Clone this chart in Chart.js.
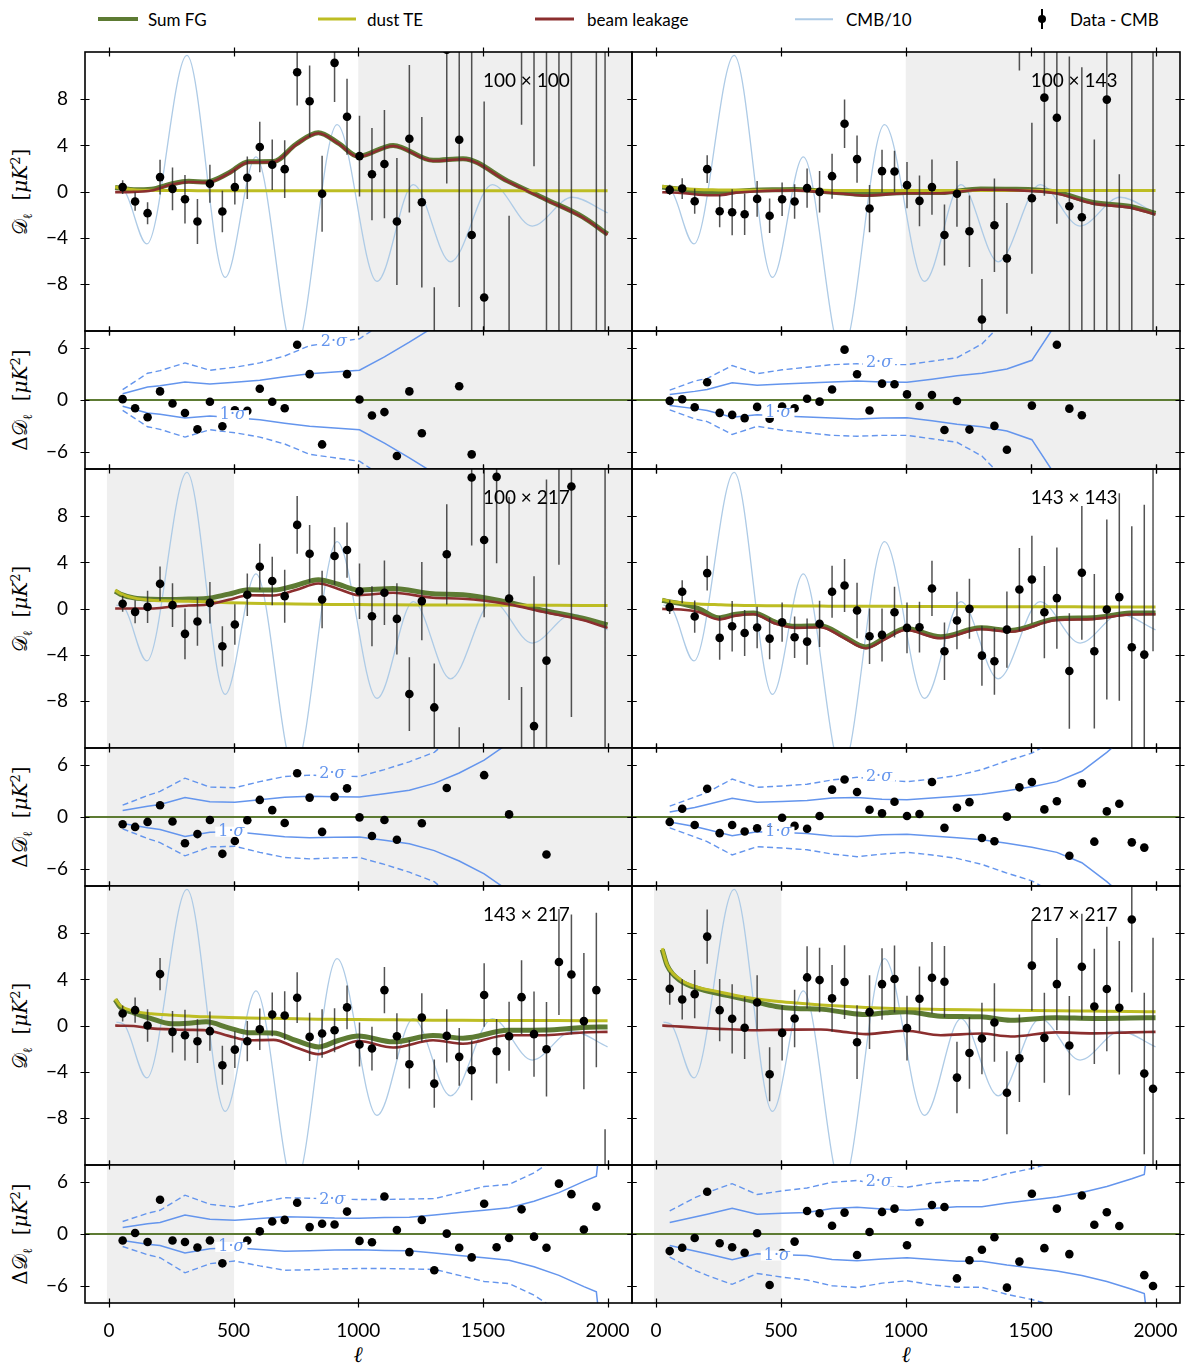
<!DOCTYPE html>
<html>
<head>
<meta charset="utf-8">
<title>TE foreground residuals</title>
<script src="https://cdn.jsdelivr.net/npm/chart.js@4.4.1/dist/chart.umd.min.js"></script>
<style>
  html, body { margin: 0; padding: 0; background: #fff; }
  body { position: relative; width: 1200px; height: 1366px; overflow: hidden; font-family: Lato, "DejaVu Sans", sans-serif; }
  canvas { position: absolute; }
  .legline { position: absolute; transform: translateY(-50%); }
  .legtext { position: absolute; top: 19px; transform: translateY(-50%); font-size: 17px; color: #000; white-space: nowrap; }
  .ytitle { position: absolute; transform: translate(-50%, -50%) rotate(-90deg); white-space: nowrap; font-family: "DejaVu Serif", serif; font-size: 20px; color: #000; }
  .ytitle sub { font-size: 13px; }
  .ytitle sup { font-size: 13px; }
  .xtitle { position: absolute; transform: translate(-50%, -50%); font-family: "DejaVu Serif", serif; font-style: italic; font-size: 22px; }
</style>
</head>
<body>

<!-- legend -->
<div class="legline" style="left:98px;top:19px;width:40px;height:4px;background:#5d7b33"></div>
<div class="legtext" style="left:148px">Sum FG</div>
<div class="legline" style="left:318px;top:19px;width:38px;height:3px;background:#bdbd23"></div>
<div class="legtext" style="left:367px">dust TE</div>
<div class="legline" style="left:535px;top:19px;width:39px;height:3px;background:#8b2e2e"></div>
<div class="legtext" style="left:587px">beam leakage</div>
<div class="legline" style="left:795px;top:19px;width:38px;height:1.5px;background:#aecbe6"></div>
<div class="legtext" style="left:846px">CMB/10</div>
<div class="legline" style="left:1041px;top:19px;width:1.5px;height:20px;background:#000"></div>
<div class="legline" style="left:1038px;top:19px;width:8px;height:8px;border-radius:50%;background:#000"></div>
<div class="legtext" style="left:1070px">Data - CMB</div>

<!-- axis titles -->
<div class="ytitle" style="left:22px;top:192px">𝒟<sub>ℓ</sub>&nbsp;&nbsp;[<i>μK</i><sup>2</sup>]</div>
<div class="ytitle" style="left:22px;top:400px">Δ𝒟<sub>ℓ</sub>&nbsp;&nbsp;[<i>μK</i><sup>2</sup>]</div>
<div class="ytitle" style="left:22px;top:609px">𝒟<sub>ℓ</sub>&nbsp;&nbsp;[<i>μK</i><sup>2</sup>]</div>
<div class="ytitle" style="left:22px;top:817px">Δ𝒟<sub>ℓ</sub>&nbsp;&nbsp;[<i>μK</i><sup>2</sup>]</div>
<div class="ytitle" style="left:22px;top:1026px">𝒟<sub>ℓ</sub>&nbsp;&nbsp;[<i>μK</i><sup>2</sup>]</div>
<div class="ytitle" style="left:22px;top:1234px">Δ𝒟<sub>ℓ</sub>&nbsp;&nbsp;[<i>μK</i><sup>2</sup>]</div>
<div class="xtitle" style="left:358px;top:1355px">ℓ</div>
<div class="xtitle" style="left:906px;top:1355px">ℓ</div>

<script>
// ---------------- data ----------------
const ellTicks = [0, 500, 1000, 1500, 2000];
const mainYTicks = [-8, -4, 0, 4, 8];
const resYTicks = [-6, 0, 6];

const ellBins = [55, 105, 155, 205, 255, 305, 355, 405, 455, 505, 555, 605, 655, 705, 755, 805, 855, 905, 955, 1005,
                 1055, 1105, 1155, 1205, 1255, 1305, 1355, 1405, 1455, 1505, 1555, 1605, 1655, 1705, 1755, 1805, 1855, 1905, 1955, 1990];
const fgEll = [25, 45, 100, 170, 250, 320, 390, 480, 560, 660, 750, 840, 920, 1000, 1140, 1300, 1420, 1600, 1750, 1900, 2000];
const bandEll = [55, 155, 205, 305, 405, 505, 605, 705, 805, 905, 1005, 1105, 1205, 1305, 1405, 1505, 1605, 1705, 1805, 1905, 1955, 1975];

// CMB TE / 10, same in every panel
const cmbEll = [30, 60, 152, 313, 466, 590, 744, 915, 1075, 1221, 1370, 1538, 1698, 1858, 2000];
const cmbVal = [0.3, 0.1, -4.55, 11.8, -7.45, 3.0, -14.0, 5.8, -7.8, 0.6, -6.1, 0.6, -3.0, -0.5, -1.85];

// 100 x 100
const data_100x100 = [0.38, -0.87, -1.88, 1.25, 0.23, -0.67, -2.6, 0.67, -1.74, 0.38, 1.19, 3.86, 2.32, 1.94, 10.35, 7.83, -0.2, 11.16, 6.49, 3.07,
                      1.5, 2.38, -2.6, 4.58, -0.93, -14.0, 12.3, 4.49, -3.77, -9.2, 40.0, -16.0, 18.0, 16.0, -13.0, 13.0, -14.0, 45.0, 15.0, -15.0];
const err_100x100 = [0.6, 0.8, 0.95, 1.5, 1.85, 2.1, 1.95, 1.65, 1.8, 1.5, 1.85, 2.2, 2.2, 2.5, 2.9, 3.1, 3.3, 3.4, 3.3, 3.5,
                     4.0, 4.7, 5.5, 6.4, 7.4, 5.7, 11.6, 14.5, 17, 17, 20, 13.9, 12.2, 13.8, 30, 30, 30, 25, 35, 35];
const res_100x100 = [0.1, -0.95, -2.0, 1.0, -0.4, -1.5, -3.4, -0.2, -3.05, -1.2, -1.26, 1.3, -0.2, -0.95, 6.4, 3.0, -5.15, null, 3.0, 0.05,
                     -1.8, -1.4, -6.5, 1.0, -3.85, null, null, 1.6, -6.3, null, null, null, null, null, null, null, null, null, null, null];
const sumfg_100x100 = [0.35, 0.3, 0.15, 0.2, 0.65, 0.88, 0.82, 1.6, 2.58, 2.6, 4.1, 5.1, 4.2, 3.05, 4.0, 2.7, 2.85, 0.9, -0.65, -2.2, -3.7];
const dust_100x100 = [0.4, 0.3, 0.15, 0.1, 0.08, 0.08, 0.07, 0.07, 0.07, 0.06, 0.06, 0.06, 0.06, 0.06, 0.06, 0.06, 0.06, 0.06, 0.06, 0.06, 0.06];
const beam_100x100 = [-0.05, -0.05, -0.03, 0.08, 0.6, 0.83, 0.77, 1.55, 2.53, 2.55, 4.05, 5.05, 4.15, 3.0, 3.95, 2.65, 2.8, 0.85, -0.7, -2.25, -3.75];
const sig1_100x100 = [0.73, 1.5, 1.65, 2.1, 1.85, 2.05, 2.3, 2.7, 3.05, 3.25, 3.45, 5.0, 6.7, 8.5, 10.5, 12.5, 14, 16, 18, 20, 21, 22];
const sig2_100x100 = [1.2, 3.1, 3.4, 4.3, 3.45, 3.8, 4.3, 5.1, 6.3, 6.7, 7.1, 9.0, 12, 15, 18, 21, 24, 27, 30, 33, 34, 35];

// 100 x 143
const data_100x143 = [0.14, 0.26, -0.84, 1.94, -1.71, -1.8, -1.97, -0.64, -2.1, -0.67, -0.87, 0.29, -0.03, 1.33, 5.88, 2.81, -1.48, 1.77, 1.74, 0.55,
                      -0.81, 0.38, -3.77, -0.2, -3.45, -11.1, -2.93, -5.8, 16.0, -0.58, 8.14, 6.4, -1.28, -2.23, -14.0, 7.97, -14.0, 14.0, 40.0, -15.0];
const err_100x143 = [0.45, 0.9, 1.1, 1.2, 1.4, 2.0, 1.8, 1.55, 1.5, 1.45, 1.5, 1.7, 1.8, 1.95, 2.1, 2.05, 2.05, 1.85, 1.8, 2.0,
                     2.2, 2.4, 2.65, 2.85, 3.1, 3.5, 4.05, 4.8, 5.5, 6.55, 8.5, 9.2, 13, 13, 18.5, 20, 15.5, 30, 20, 30];
const res_100x143 = [-0.1, 0.08, -0.84, 2.06, -1.49, -1.72, -2.1, -0.8, -2.18, -0.76, -0.95, 0.15, -0.19, 1.22, 5.84, 2.98, -1.22, 1.9, 1.83, 0.65,
                     -0.69, 0.57, -3.47, -0.11, -3.43, null, -3.0, -5.76, null, -0.65, null, 6.4, -1.0, -1.76, null, null, null, null, null, null];
const sumfg_100x143 = [0.38, 0.32, 0.2, -0.05, -0.15, 0.0, 0.1, 0.15, 0.17, 0.03, -0.13, -0.27, -0.17, -0.08, -0.08, 0.22, 0.2, -0.05, -0.95, -1.3, -1.9];
const dust_100x143 = [0.45, 0.38, 0.25, 0.17, 0.14, 0.12, 0.11, 0.1, 0.1, 0.1, 0.09, 0.09, 0.09, 0.09, 0.09, 0.08, 0.08, 0.08, 0.08, 0.08, 0.08];
const beam_100x143 = [-0.06, -0.08, -0.12, -0.28, -0.33, -0.1, 0.0, 0.08, 0.1, -0.05, -0.2, -0.35, -0.25, -0.15, -0.15, 0.15, 0.12, -0.15, -1.05, -1.4, -2.0];
const sig1_100x143 = [0.65, 1.0, 1.22, 2.0, 1.72, 1.85, 1.98, 2.1, 2.2, 2.1, 2.05, 2.4, 2.8, 3.1, 3.6, 4.6, 9.0, 12, 15, 18, 19, 20];
const sig2_100x143 = [1.15, 2.2, 2.5, 4.0, 3.05, 3.5, 3.8, 4.1, 4.2, 4.1, 4.1, 4.5, 4.9, 6.5, 9.5, 12, 15, 18, 21, 24, 25, 26];

// 100 x 217
const data_100x217 = [0.41, -0.29, 0.14, 2.14, 0.29, -2.2, -1.13, 0.49, -3.28, -1.39, 1.19, 3.62, 2.38, 1.07, 7.25, 4.75, 0.78, 4.55, 5.07, 1.5,
                      -0.67, 1.36, -0.9, -7.42, 0.64, -8.58, 4.7, -16.0, 11.36, 5.94, 11.42, 0.87, -16.0, -10.2, -4.52, 17.0, 10.58, 40.0, 40.0, -14.0];
const err_100x217 = [0.7, 1.0, 1.4, 1.5, 1.9, 2.2, 2.1, 1.8, 1.75, 1.75, 1.85, 2.0, 2.1, 2.3, 2.5, 2.5, 2.5, 2.5, 2.4, 2.4,
                     2.6, 2.8, 3.1, 3.2, 3.4, 3.8, 4.35, 5.7, 5.9, 6.7, 7.5, 8.8, 9.2, 13, 15.7, 13.2, 20, 20, 20, 30];
const res_100x217 = [-0.84, -1.15, -0.57, 1.37, -0.53, -3.05, -1.98, -0.34, -4.27, -2.79, -0.38, 1.98, 0.8, -0.69, 5.08, 2.25, -1.72, 2.33, 3.32, -0.04,
                     -2.21, -0.34, -2.63, null, -0.73, null, 3.36, null, null, 4.85, null, 0.3, null, null, -4.35, null, null, null, null, null];
const sumfg_100x217 = [1.5, 1.25, 0.92, 0.8, 0.78, 0.82, 0.87, 1.25, 1.62, 1.6, 2.0, 2.5, 2.1, 1.6, 1.74, 1.28, 1.2, 0.55, -0.2, -0.85, -1.42];
const dust_100x217 = [1.6, 1.3, 0.92, 0.72, 0.66, 0.62, 0.58, 0.5, 0.46, 0.42, 0.38, 0.36, 0.35, 0.34, 0.32, 0.31, 0.3, 0.29, 0.28, 0.27, 0.26];
const beam_100x217 = [0.0, 0.0, 0.0, 0.0, 0.15, 0.26, 0.32, 0.75, 1.15, 1.13, 1.6, 2.17, 1.7, 1.16, 1.36, 0.93, 0.85, 0.38, -0.33, -1.0, -1.68];
const sig1_100x217 = [0.75, 1.25, 1.45, 2.25, 1.76, 1.7, 2.0, 2.3, 2.4, 2.35, 2.33, 2.7, 3.1, 3.9, 5.1, 6.6, 8.6, 11, 14, 17, 18, 19];
const sig2_100x217 = [1.37, 2.5, 2.97, 4.5, 3.47, 3.4, 4.1, 4.7, 4.85, 4.75, 4.7, 5.5, 6.4, 7.5, 10, 13, 16, 19, 22, 25, 26, 27];

// 143 x 143
const data_143x143 = [0.12, 1.45, -0.7, 3.07, -2.55, -1.54, -2.12, -1.65, -2.61, -1.19, -2.49, -2.87, -1.33, 1.45, 2.0, -0.17, -2.41, -2.29, -0.32, -1.68,
                      -1.62, 1.74, -3.71, -1.04, -0.03, -4.09, -4.58, -1.83, 1.65, 2.52, -0.32, 0.9, -5.42, 3.1, -3.71, -0.09, 0.99, -3.36, -4.0, 13.0];
const err_143x143 = [0.6, 1.0, 1.4, 1.5, 1.9, 2.2, 2.0, 1.8, 1.8, 1.7, 1.8, 2.0, 2.0, 2.25, 2.3, 2.4, 2.4, 2.3, 2.2, 2.2,
                     2.2, 2.4, 2.5, 2.5, 2.6, 2.6, 2.9, 3.3, 3.6, 3.8, 4.0, 4.4, 5.0, 5.8, 6.7, 7.8, 9.0, 10.5, 13, 16.7];
const res_143x143 = [-0.57, 0.95, -0.92, 3.28, -1.87, -0.92, -1.68, -1.3, -1.5, -0.08, -1.03, -1.37, 0.11, 3.17, 4.35, 2.9, 0.84, 0.42, 1.76, 0.11,
                     0.34, 4.05, -1.26, 1.07, 1.72, -2.44, -2.82, 0.04, 3.44, 4.05, 0.88, 1.83, -4.5, 3.9, -2.86, 0.65, 1.53, -2.94, -3.55, null];
const sumfg_143x143 = [0.72, 0.62, 0.42, 0.0, -0.8, -0.5, -0.38, -1.2, -1.55, -1.5, -2.4, -3.33, -2.5, -1.74, -2.46, -1.68, -1.9, -0.9, -0.8, -0.4, -0.38];
const dust_143x143 = [0.78, 0.68, 0.5, 0.4, 0.33, 0.28, 0.26, 0.24, 0.22, 0.21, 0.2, 0.2, 0.19, 0.18, 0.17, 0.16, 0.15, 0.15, 0.14, 0.14, 0.14];
const beam_143x143 = [-0.03, -0.05, -0.08, -0.3, -0.95, -0.62, -0.5, -1.33, -1.68, -1.62, -2.53, -3.45, -2.62, -1.87, -2.58, -1.8, -2.02, -1.02, -0.92, -0.52, -0.5];
const sig1_143x143 = [0.57, 1.1, 1.45, 2.18, 1.72, 1.8, 1.9, 2.2, 2.25, 2.05, 2.0, 2.2, 2.4, 2.65, 3.05, 3.5, 4.1, 5.3, 7.5, 10, 11, 12];
const sig2_143x143 = [1.26, 2.3, 2.86, 4.4, 3.44, 3.6, 3.8, 4.3, 4.6, 4.3, 4.1, 4.4, 4.8, 5.5, 6.5, 7.4, 9, 12, 15, 18, 19, 20];

// 143 x 217
const data_143x217 = [1.04, 1.33, 0.0, 4.46, -0.55, -0.84, -1.36, -0.49, -3.45, -2.09, -1.36, -0.32, 0.96, 0.87, 2.41, -0.99, -0.7, -0.41, 1.57, -1.65,
                      -2.0, 3.07, -0.93, -3.36, 0.7, -5.04, -0.9, -2.72, -3.88, 2.64, -2.23, -0.93, 2.46, -0.75, -2.06, 5.51, 4.43, 0.38, 3.07, -15.0];
const err_143x217 = [0.7, 1.1, 1.4, 1.4, 1.8, 2.2, 1.9, 1.7, 1.7, 1.6, 1.75, 1.8, 1.9, 2.1, 2.2, 2.1, 2.1, 1.9, 1.9, 1.9,
                     1.9, 2.0, 2.0, 2.1, 2.1, 2.1, 2.3, 2.5, 2.6, 2.75, 2.8, 3.0, 3.2, 3.7, 4.1, 4.6, 5.2, 5.9, 6.7, 6.0];
const res_143x217 = [-0.76, 0.11, -0.92, 3.97, -0.76, -0.92, -1.56, -0.76, -3.4, -1.6, -0.76, 0.31, 1.45, 1.64, 3.63, 0.8, 1.18, 1.11, 2.6, -0.8,
                     -0.95, 4.35, 0.46, -2.1, 1.64, -4.2, 0.04, -1.6, -2.71, 3.51, -1.53, -0.46, 2.86, -0.31, -1.6, 5.84, 4.62, 0.53, 3.17, null];
const sumfg_143x217 = [2.25, 1.6, 1.1, 0.6, 0.15, 0.2, 0.32, -0.2, -0.62, -0.65, -1.3, -1.86, -1.3, -0.92, -1.42, -0.87, -1.1, -0.42, -0.4, -0.17, -0.12];
const dust_143x217 = [2.3, 1.75, 1.25, 1.02, 0.9, 0.82, 0.75, 0.7, 0.66, 0.62, 0.58, 0.55, 0.53, 0.51, 0.49, 0.46, 0.45, 0.44, 0.43, 0.42, 0.41];
const beam_143x217 = [0.0, -0.02, -0.05, -0.25, -0.33, -0.38, -0.41, -0.9, -1.28, -1.25, -1.9, -2.49, -1.9, -1.35, -1.91, -1.28, -1.58, -0.84, -0.84, -0.61, -0.55];
const sig1_143x217 = [0.76, 1.2, 1.34, 2.21, 1.72, 1.6, 1.8, 2.0, 1.95, 1.85, 1.83, 1.9, 1.95, 2.2, 2.5, 2.75, 3.05, 3.8, 4.8, 6.1, 6.7, 12];
const sig2_143x217 = [1.45, 2.4, 2.75, 4.5, 3.44, 3.13, 3.7, 4.2, 4.15, 4.05, 4.0, 4.0, 4.05, 4.1, 4.8, 5.5, 5.75, 7.1, 9, 11, 12, 20];

// 217 x 217
const data_217x217 = [3.19, 2.26, 2.72, 7.71, 1.33, 0.58, -0.2, 2.0, -4.23, -0.64, 0.61, 4.17, 3.94, 2.35, 3.77, -1.45, 1.16, 3.59, 4.03, -0.23,
                      2.32, 4.14, 3.8, -4.52, -2.38, -1.13, 0.26, -5.83, -2.84, 5.19, -1.07, 3.59, -1.74, 5.1, 1.65, 3.16, 1.54, 9.19, -4.17, -5.48];
const err_217x217 = [1.4, 1.75, 2.1, 2.35, 2.7, 3.0, 2.7, 2.35, 2.35, 2.4, 2.5, 2.7, 2.8, 2.9, 3.2, 3.2, 3.2, 3.1, 2.9, 2.8,
                     2.8, 3.1, 3.1, 3.1, 3.1, 3.1, 3.4, 3.6, 3.8, 3.9, 3.9, 4.0, 4.3, 4.6, 5.0, 5.4, 5.8, 6.3, 7.0, 13.1];
const res_217x217 = [-1.98, -1.6, -0.46, 4.89, -1.07, -1.53, -2.18, 0.08, -5.92, -2.2, -0.88, 2.67, 2.4, 0.95, 2.48, -2.44, 0.23, 2.56, 2.94, -1.3,
                     1.37, 3.36, 3.13, -5.15, -3.05, -1.83, -0.38, -6.22, -3.2, 4.66, -1.64, 2.94, -2.33, 4.47, 1.07, 2.52, 0.92, null, -4.77, -6.03];
const sumfg_217x217 = [6.6, 5.2, 3.85, 3.2, 2.78, 2.45, 2.1, 1.65, 1.48, 1.42, 1.15, 0.96, 1.1, 1.19, 0.81, 0.75, 0.45, 0.67, 0.61, 0.65, 0.67];
const dust_217x217 = [6.7, 5.25, 3.95, 3.3, 2.92, 2.6, 2.35, 2.1, 1.95, 1.78, 1.66, 1.56, 1.49, 1.45, 1.39, 1.35, 1.32, 1.28, 1.25, 1.22, 1.19];
const beam_217x217 = [0.0, -0.03, -0.1, -0.2, -0.29, -0.35, -0.41, -0.38, -0.36, -0.35, -0.55, -0.75, -0.6, -0.46, -0.84, -0.7, -0.95, -0.6, -0.68, -0.6, -0.55];
const sig1_217x217 = [1.34, 1.98, 2.3, 2.98, 2.29, 2.4, 2.5, 2.95, 3.1, 2.9, 2.75, 2.95, 3.15, 3.17, 3.6, 3.95, 4.3, 4.8, 5.5, 6.4, 6.9, 12];
const sig2_217x217 = [2.67, 4.2, 4.8, 5.84, 4.58, 5.0, 5.34, 6.0, 6.2, 5.7, 5.42, 5.9, 6.18, 6.18, 7.0, 7.6, 8.4, 10, 12, 14, 15, 20];

// ---------------- layout / style ----------------
const ELL_MIN = -96, ELL_MAX = 2098;
const MAIN_MIN = -12.1, MAIN_MAX = 12.1, RES_MIN = -8, RES_MAX = 8;
const COL_L = [85, 632], COL_R = [632, 1180];
const ROW_TOP = [52, 469, 886];
const MAIN_H = 279, RES_H = 138;
const PAD = 34; // room round each plot so that label overflow never moves the chart area

const C_SUM = '#5d7b33', C_DUST = '#bdbd23', C_BEAM = '#8b2e2e', C_CMB = '#aecbe6', C_SIG = '#6495ed', C_SHADE = '#efefef';
const C_ERR = 'rgba(40,40,40,0.8)';
const TICK_FONT = { family: 'Lato', size: 19 };

const panels = [
  { title: '100 × 100', col: 0, row: 0, vals: data_100x100, errs: err_100x100, res: res_100x100,
    sum: sumfg_100x100, dust: dust_100x100, beam: beam_100x100, sig1: sig1_100x100, sig2: sig2_100x100,
    shade: [[1000, 2200]], lab2: [902, 6.7], lab1: [497, -1.75] },
  { title: '100 × 143', col: 1, row: 0, vals: data_100x143, errs: err_100x143, res: res_100x143,
    sum: sumfg_100x143, dust: dust_100x143, beam: beam_100x143, sig1: sig1_100x143, sig2: sig2_100x143,
    shade: [[1000, 2200]], lab2: [893, 4.3], lab1: [490, -1.5] },
  { title: '100 × 217', col: 0, row: 1, vals: data_100x217, errs: err_100x217, res: res_100x217,
    sum: sumfg_100x217, dust: dust_100x217, beam: beam_100x217, sig1: sig1_100x217, sig2: sig2_100x217,
    shade: [[-8, 502], [1000, 2200]], lab2: [896, 5.0], lab1: [491, -1.7] },
  { title: '143 × 143', col: 1, row: 1, vals: data_143x143, errs: err_143x143, res: res_143x143,
    sum: sumfg_143x143, dust: dust_143x143, beam: beam_143x143, sig1: sig1_143x143, sig2: sig2_143x143,
    shade: [], lab2: [893, 4.65], lab1: [490, -1.7] },
  { title: '143 × 217', col: 0, row: 2, vals: data_143x217, errs: err_143x217, res: res_143x217,
    sum: sumfg_143x217, dust: dust_143x217, beam: beam_143x217, sig1: sig1_143x217, sig2: sig2_143x217,
    shade: [[-8, 502]], lab2: [896, 4.0], lab1: [491, -1.5] },
  { title: '217 × 217', col: 1, row: 2, vals: data_217x217, errs: err_217x217, res: res_217x217,
    sum: sumfg_217x217, dust: dust_217x217, beam: beam_217x217, sig1: sig1_217x217, sig2: sig2_217x217,
    shade: [[-8, 502]], lab2: [892, 6.1], lab1: [484, -2.5] },
];

// ---------------- helpers ----------------
const pts = (xs, ys) => xs.map((x, i) => ({ x: x, y: ys[i] }));

function errorBarPoints(vals, errs) {
  const out = [];
  ellBins.forEach((l, i) => {
    out.push({ x: l, y: vals[i] - errs[i] }, { x: l, y: vals[i] + errs[i] }, { x: l, y: null });
  });
  return out;
}

const panelDecor = {
  id: 'panelDecor',
  beforeDatasetsDraw(chart, args, opts) {
    const { ctx, chartArea: a, scales: { x } } = chart;
    ctx.save();
    ctx.fillStyle = C_SHADE;
    (opts.shade || []).forEach(([l0, l1]) => {
      const p0 = Math.max(a.left, x.getPixelForValue(l0));
      const p1 = Math.min(a.right, x.getPixelForValue(l1));
      if (p1 > p0) ctx.fillRect(p0, a.top, p1 - p0, a.bottom - a.top);
    });
    ctx.restore();
  },
  afterDatasetsDraw(chart, args, opts) {
    const { ctx, scales: { x, y } } = chart;
    ctx.save();
    if (opts.title) {
      ctx.font = '19px Lato';
      ctx.fillStyle = '#000';
      ctx.textAlign = 'left';
      ctx.textBaseline = 'middle';
      ctx.fillText(opts.title, x.getPixelForValue(1500), y.getPixelForValue(9.6));
    }
    // inline contour-style labels on the sigma curves
    (opts.sigLabels || []).forEach(s => {
      const px = x.getPixelForValue(s.at[0]), py = y.getPixelForValue(s.at[1]);
      const numFont = '16px "DejaVu Serif"', sigFont = 'italic 16px "DejaVu Serif"';
      ctx.font = numFont;
      const w1 = ctx.measureText(s.n + '·').width;
      ctx.font = sigFont;
      const w2 = ctx.measureText('σ').width;
      const w = w1 + w2;
      ctx.fillStyle = '#fff';
      ctx.fillRect(px - w / 2 - 3, py - 5, w + 6, 10);
      ctx.fillStyle = C_SIG;
      ctx.textBaseline = 'middle';
      ctx.textAlign = 'left';
      ctx.font = numFont;
      ctx.fillText(s.n + '·', px - w / 2, py);
      ctx.font = sigFont;
      ctx.fillText('σ', px - w / 2 + w1, py);
    });
    ctx.restore();
  },
  afterDraw(chart, args, opts) {
    const { ctx, chartArea: a, scales: { x, y } } = chart;
    ctx.save();
    ctx.strokeStyle = '#000';
    ctx.lineWidth = 1.2;
    ctx.beginPath();
    ellTicks.forEach(v => {
      const p = Math.round(x.getPixelForValue(v)) + 0.5;
      ctx.moveTo(p, a.top - 4.5); ctx.lineTo(p, a.top + 4.5);
      ctx.moveTo(p, a.bottom - 4.5); ctx.lineTo(p, a.bottom + 4.5);
    });
    (opts.yTicks || []).forEach(v => {
      const p = Math.round(y.getPixelForValue(v)) + 0.5;
      ctx.moveTo(a.left - 4.5, p); ctx.lineTo(a.left + 4.5, p);
      ctx.moveTo(a.right - 4.5, p); ctx.lineTo(a.right + 4.5, p);
    });
    ctx.stroke();
    ctx.lineWidth = 1.6;
    ctx.strokeRect(a.left, a.top, a.right - a.left, a.bottom - a.top);
    ctx.restore();
  }
};

function addCanvas(left, top, width, height) {
  const c = document.createElement('canvas');
  c.width = width; c.height = height;
  c.style.left = left + 'px'; c.style.top = top + 'px';
  c.style.width = width + 'px'; c.style.height = height + 'px';
  document.body.appendChild(c);
  return c;
}

function mainDatasets(p) {
  return [
    { data: pts(ellBins, p.vals), showLine: false, pointRadius: 4.3, pointBackgroundColor: '#000', pointBorderWidth: 0, order: 1 },
    { data: errorBarPoints(p.vals, p.errs), borderColor: C_ERR, borderWidth: 1.5, pointRadius: 0, spanGaps: false, order: 2 },
    { data: pts(fgEll, p.beam), borderColor: C_BEAM, borderWidth: 2.6, pointRadius: 0, cubicInterpolationMode: 'monotone', order: 3 },
    { data: pts(fgEll, p.dust), borderColor: C_DUST, borderWidth: 3, pointRadius: 0, cubicInterpolationMode: 'monotone', order: 4 },
    { data: pts(fgEll, p.sum), borderColor: C_SUM, borderWidth: 5, pointRadius: 0, cubicInterpolationMode: 'monotone', order: 5 },
    { data: pts(cmbEll, cmbVal), borderColor: C_CMB, borderWidth: 1.3, pointRadius: 0, cubicInterpolationMode: 'monotone', order: 6 },
  ];
}

function resDatasets(p) {
  const neg = a => a.map(v => -v);
  return [
    { data: pts(ellBins, p.res), showLine: false, pointRadius: 4.3, pointBackgroundColor: '#000', pointBorderWidth: 0, order: 1 },
    { data: pts(bandEll, p.sig1), borderColor: C_SIG, borderWidth: 1.5, pointRadius: 0, tension: 0, order: 3 },
    { data: pts(bandEll, neg(p.sig1)), borderColor: C_SIG, borderWidth: 1.5, pointRadius: 0, tension: 0, order: 3 },
    { data: pts(bandEll, p.sig2), borderColor: C_SIG, borderWidth: 1.4, borderDash: [6, 3.5], pointRadius: 0, tension: 0, order: 4 },
    { data: pts(bandEll, neg(p.sig2)), borderColor: C_SIG, borderWidth: 1.4, borderDash: [6, 3.5], pointRadius: 0, tension: 0, order: 4 },
    { data: [{ x: ELL_MIN, y: 0 }, { x: ELL_MAX, y: 0 }], borderColor: C_SUM, borderWidth: 2, pointRadius: 0, order: 5 },
  ];
}

function buildPanel(p, isMain) {
  const plotL = COL_L[p.col], plotR = COL_R[p.col];
  const plotT = isMain ? ROW_TOP[p.row] : ROW_TOP[p.row] + MAIN_H;
  const plotB = plotT + (isMain ? MAIN_H : RES_H);
  const showY = p.col === 0;
  const showX = !isMain && p.row === 2;
  const padL = showY ? plotL : PAD;
  const padR = PAD, padT = PAD, padB = showX ? 62 : PAD;
  const canvas = addCanvas(plotL - padL, plotT - padT, plotR - plotL + padL + padR, plotB - plotT + padT + padB);
  const yTicks = isMain ? mainYTicks : resYTicks;

  new Chart(canvas, {
    type: 'line',
    data: { datasets: isMain ? mainDatasets(p) : resDatasets(p) },
    options: {
      responsive: false,
      animation: false,
      events: [],
      layout: { padding: { left: showY ? 0 : padL, right: padR, top: padT, bottom: showX ? 0 : padB } },
      plugins: {
        legend: { display: false },
        tooltip: { enabled: false },
        panelDecor: {
          shade: p.shade,
          yTicks: yTicks,
          title: isMain ? p.title : null,
          sigLabels: isMain ? [] : [{ n: '2', at: p.lab2 }, { n: '1', at: p.lab1 }]
        }
      },
      scales: {
        x: {
          type: 'linear', min: ELL_MIN, max: ELL_MAX, display: showX,
          grid: { display: false, drawTicks: false }, border: { display: false },
          afterFit: s => { if (showX) s.height = padB; },
          afterBuildTicks: s => { s.ticks = ellTicks.map(v => ({ value: v })); },
          ticks: { font: TICK_FONT, color: '#000', padding: 16, maxRotation: 0, autoSkip: false,
                   callback: v => String(v) }
        },
        y: {
          type: 'linear', min: isMain ? MAIN_MIN : RES_MIN, max: isMain ? MAIN_MAX : RES_MAX, display: showY,
          grid: { display: false, drawTicks: false }, border: { display: false },
          afterFit: s => { if (showY) s.width = padL; },
          afterBuildTicks: s => { s.ticks = yTicks.map(v => ({ value: v })); },
          ticks: { font: TICK_FONT, color: '#000', padding: 17, autoSkip: false,
                   callback: v => String(v).replace('-', '\u2212') }
        }
      }
    },
    plugins: [panelDecor]
  });
}

panels.forEach(p => { buildPanel(p, true); buildPanel(p, false); });
</script>
</body>
</html>
